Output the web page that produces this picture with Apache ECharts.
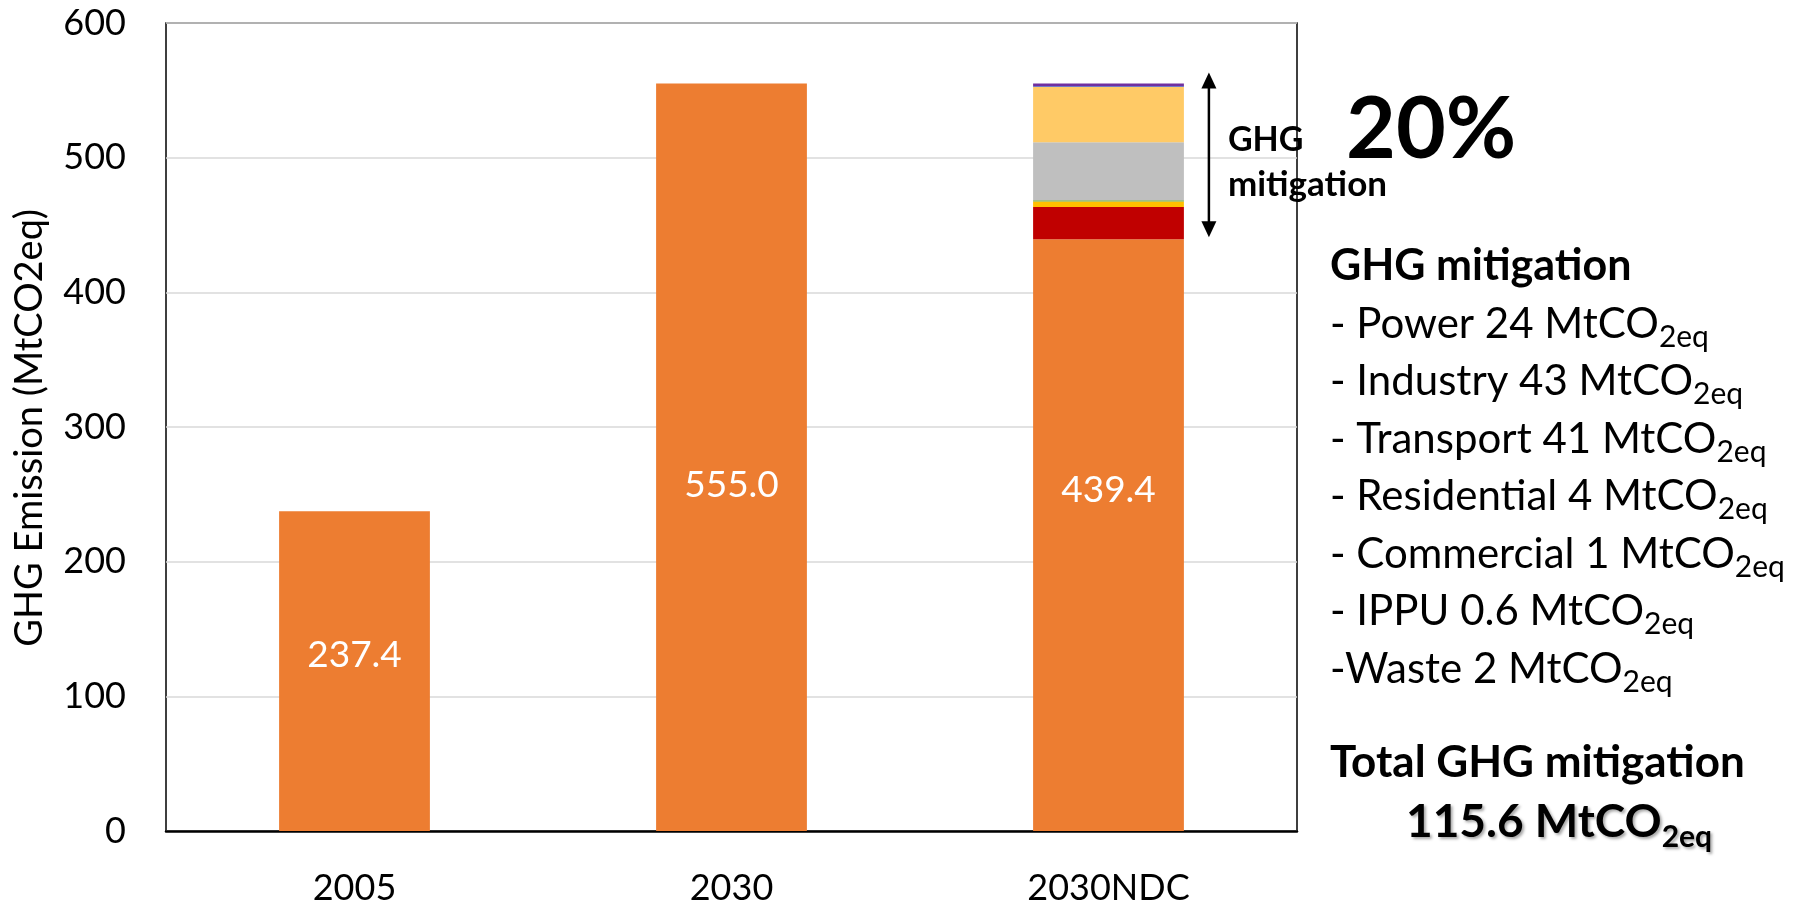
<!DOCTYPE html>
<html>
<head>
<meta charset="utf-8">
<title>GHG Emission 2005 / 2030 / 2030NDC</title>
<script src="https://cdn.jsdelivr.net/npm/echarts@6/dist/echarts.min.js"></script>
<style>
  html, body { margin: 0; padding: 0; background: #fff; }
  #chart { width: 1810px; height: 906px; }
</style>
</head>
<body>
<div id="chart"></div>
<script>
// ---- data ----
const categories = ['2005', '2030', '2030NDC'];
const emission = [237.4, 555.0, 439.4];

// mitigation by sector (MtCO2eq), in the order listed on the right
const sectors = ['Power', 'Industry', 'Transport', 'Residential', 'Commercial', 'IPPU', 'Waste'];
const mitigation = [24, 43, 41, 4, 1, 0.6, 2];
// order in which the sectors are stacked on top of the 2030NDC bar (bottom to top)
const stackOrder = ['Power', 'Residential', 'Commercial', 'Industry', 'Transport', 'IPPU', 'Waste'];
const mitigationShare = '20%';

const yMin = 0, yMax = 600, yStep = 100;

// ---- styles ----
const FONT = 'Lato, "Open Sans", "DejaVu Sans", sans-serif';
const baseColor = '#ED7D31';
const sectorColors = {
  Power: '#C00000',
  Residential: '#FFC000',
  Commercial: '#70AD47',
  Industry: '#BFBFBF',
  Transport: '#FFCA66',
  IPPU: '#4472C4',
  Waste: '#7030A0'
};
// vertical nudge (px) of each value label inside its bar
const labelShift = [-16, 28, -45];

const chart = echarts.init(document.getElementById('chart'), null, { renderer: 'canvas' });

const ndcIndex = categories.indexOf('2030NDC');
const stackSeries = stackOrder.map(function (name) {
  const v = mitigation[sectors.indexOf(name)];
  return {
    name: name,
    type: 'bar',
    stack: 'total',
    data: categories.map(function (c, i) { return i === ndcIndex ? v : null; }),
    itemStyle: { color: sectorColors[name] },
    barCategoryGap: '60%'
  };
});

const option = {
  backgroundColor: '#fff',
  animation: false,
  grid: {
    left: 166, right: 513, top: 23, bottom: 74,
    show: true, borderColor: '#000', borderWidth: 1.5, backgroundColor: 'transparent'
  },
  xAxis: {
    type: 'category',
    data: categories,
    axisTick: { show: false },
    axisLine: { show: true, lineStyle: { color: '#000', width: 2.5 } },
    axisLabel: { fontFamily: FONT, fontSize: 36, color: '#000', margin: 39 }
  },
  yAxis: {
    type: 'value',
    min: yMin, max: yMax, interval: yStep,
    axisLine: { show: false },
    axisTick: { show: false },
    splitLine: { show: true, lineStyle: { color: '#D9D9D9', width: 1.5 } },
    axisLabel: { fontFamily: FONT, fontSize: 36, color: '#000', margin: 40 }
  },
  series: [{
    name: 'Emission',
    type: 'bar',
    stack: 'total',
    data: emission.map(function (v, i) {
      return { value: v, label: { offset: [0, labelShift[i]] } };
    }),
    barCategoryGap: '60%',
    itemStyle: { color: baseColor },
    label: {
      show: true,
      position: 'inside',
      fontFamily: FONT,
      fontSize: 37,
      color: '#fff',
      formatter: function (p) { return p.value.toFixed(1); }
    }
  }].concat(stackSeries)
};

chart.setOption(option);

// ---- annotations ----
const measureCtx = document.createElement('canvas').getContext('2d');
function textWidth(str, size, weight) {
  measureCtx.font = (weight || 'normal') + ' ' + size + 'px ' + FONT;
  return measureCtx.measureText(str).width;
}
function txt(x, y, str, size, weight, extra) {
  const style = Object.assign({
    text: str, x: 0, y: 0,
    fill: '#000',
    fontFamily: FONT, fontSize: size, fontWeight: weight || 'normal',
    align: 'left', textAlign: 'left',
    verticalAlign: 'middle', textVerticalAlign: 'middle'
  }, extra || {});
  return { type: 'text', x: x, y: y, style: style, z: 100 };
}
// text followed by a "2eq" subscript
function withSub(x, y, main, sub, size, subSize, weight, dy, extra) {
  const w = textWidth(main, size, weight);
  return [
    txt(x, y, main, size, weight, extra),
    txt(x + w, y + dy, sub, subSize, weight, extra)
  ];
}

const total = mitigation.reduce(function (a, b) { return a + b; }, 0);
const topVal = emission[ndcIndex] + total;

const pTop = chart.convertToPixel({ gridIndex: 0 }, [ndcIndex, topVal]);
const pBot = chart.convertToPixel({ gridIndex: 0 }, [ndcIndex, emission[ndcIndex]]);
const pPrev = chart.convertToPixel({ gridIndex: 0 }, [ndcIndex - 1, 0]);
const band = pTop[0] - pPrev[0];
const ax = pTop[0] + band * 0.2 + 25;
const yA = pTop[1] - 11, yB = pBot[1] - 2;
const head = 16, half = 7.5;

const graphics = [
  { type: 'line', shape: { x1: ax, y1: yA + head - 2, x2: ax, y2: yB - head + 2 },
    style: { stroke: '#000', lineWidth: 2.5 }, z: 100 },
  { type: 'polygon', shape: { points: [[ax, yA], [ax - half, yA + head], [ax + half, yA + head]] },
    style: { fill: '#000' }, z: 100 },
  { type: 'polygon', shape: { points: [[ax, yB], [ax - half, yB - head], [ax + half, yB - head]] },
    style: { fill: '#000' }, z: 100 },
  txt(ax + 19, 140, 'GHG', 34, 'bold'),
  txt(ax + 19, 185, 'mitigation', 35, 'bold'),
  txt(1346, 130, mitigationShare, 86, 'bold'),
  txt(1330, 266, 'GHG mitigation', 43, 'bold'),
  // y-axis title
  {
    type: 'text', x: 30, y: 428, rotation: Math.PI / 2, z: 100,
    style: {
      text: 'GHG Emission (MtCO2eq)', fill: '#000',
      fontFamily: FONT, fontSize: 38,
      align: 'center', textAlign: 'center', verticalAlign: 'middle', textVerticalAlign: 'middle'
    }
  }
];

sectors.forEach(function (name, i) {
  const bullet = i === sectors.length - 1 ? '-' : '- ';
  const main = bullet + name + ' ' + mitigation[i] + ' MtCO';
  withSub(1330, 324 + i * 57.5, main, '2eq', 42, 30, 'normal', 13).forEach(function (g) { graphics.push(g); });
});

graphics.push(txt(1330, 763, 'Total GHG mitigation', 44, 'bold'));
withSub(1406, 822, (Math.round(total * 10) / 10).toFixed(1) + ' MtCO', '2eq', 46, 30, 'bold', 15,
  { textShadowColor: 'rgba(0,0,0,0.35)', textShadowBlur: 3, textShadowOffsetX: 2, textShadowOffsetY: 2 })
  .forEach(function (g) { graphics.push(g); });

chart.setOption({ graphic: graphics });
</script>
</body>
</html>
